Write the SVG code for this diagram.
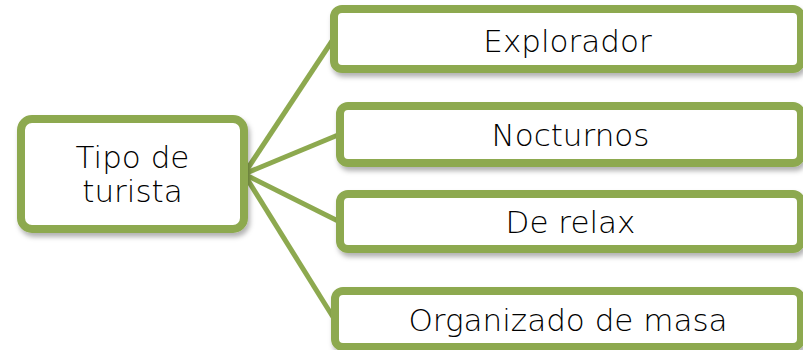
<svg xmlns="http://www.w3.org/2000/svg" width="803" height="350" viewBox="0 0 803 350">
  <defs>
    <filter id="sh" x="-10%" y="-20%" width="120%" height="150%">
      <feDropShadow dx="2" dy="4" stdDeviation="2.5" flood-color="#000" flood-opacity="0.3"/>
    </filter>
    <style>
      .box { fill: #ffffff; stroke: #8DA94F; stroke-width: 8; filter: url(#sh); }
      .conn { stroke: #8DA94F; stroke-width: 5; fill: none; stroke-linecap: butt; }
      .lbl { font-family: "DejaVu Sans", "Liberation Sans", sans-serif; font-size: 31px; fill: #000000; text-anchor: middle; font-weight: 300; }
    </style>
  </defs>
  <rect width="803" height="350" fill="#ffffff"/>
  <g id="connectors">
    <line class="conn" x1="244" y1="174" x2="332" y2="41"/>
    <line class="conn" x1="244" y1="174" x2="338" y2="135"/>
    <line class="conn" x1="244" y1="174" x2="338" y2="221"/>
    <line class="conn" x1="244" y1="174" x2="333" y2="317"/>
  </g>
  <g id="tipo-de-turista">
    <rect class="box" x="21" y="119" width="223" height="110" rx="11"/>
    <text class="lbl" x="132.5" y="168">Tipo de</text>
    <text class="lbl" x="132.5" y="202">turista</text>
  </g>
  <g id="explorador">
    <rect class="box" x="334" y="9" width="467" height="60" rx="8"/>
    <text class="lbl" x="567.5" y="52">Explorador</text>
  </g>
  <g id="nocturnos">
    <rect class="box" x="340" y="106" width="461" height="57" rx="8"/>
    <text class="lbl" x="570.5" y="146">Nocturnos</text>
  </g>
  <g id="de-relax">
    <rect class="box" x="340" y="194" width="461" height="55" rx="8"/>
    <text class="lbl" x="570.5" y="233">De relax</text>
  </g>
  <g id="organizado-de-masa">
    <rect class="box" x="335" y="291" width="466" height="56" rx="8"/>
    <text class="lbl" x="568" y="331">Organizado de masa</text>
  </g>
</svg>
